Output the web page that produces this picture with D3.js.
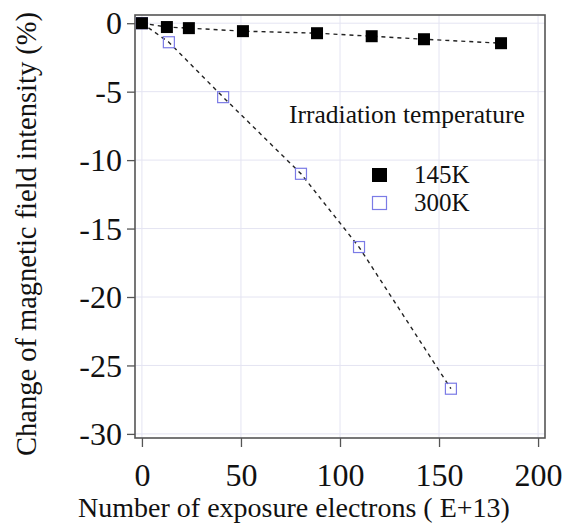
<!DOCTYPE html>
<html>
<head>
<meta charset="utf-8">
<script src="https://cdn.jsdelivr.net/npm/d3@7"></script>
<style>
body { margin: 0; background: #fff; }
text { font-family: "Liberation Serif", "Times New Roman", serif; fill: #111; }
</style>
</head>
<body>
<svg id="svg1" width="564" height="525"></svg>
<script>
// exposure electrons (E+13) and change of field intensity (%)
var x145 = [0, 12.6, 23.7, 51, 88.4, 116, 142.4, 181.3];
var y145 = [0, -0.28, -0.36, -0.58, -0.73, -0.95, -1.17, -1.46];
var x300 = [0, 13.6, 41, 80.3, 109.6, 156];
var y300 = [0, -1.39, -5.4, -11.0, -16.35, -26.7];
var xTicks = [0, 50, 100, 150, 200];
var yTicks = [0, -5, -10, -15, -20, -25, -30];

var svg = d3.select('svg');

var plotLeft = 135, plotRight = 545, plotTop = 15, plotBottom = 438;

var x = d3.scaleLinear().domain([-3.5, 203.5]).range([plotLeft, plotRight]);
var y = d3.scaleLinear().domain([0.6, -30.3]).range([plotTop, plotBottom]);

// grid
svg.append('g').selectAll('line')
    .data(xTicks).enter().append('line')
    .attr('x1', function(d){return x(d)}).attr('x2', function(d){return x(d)})
    .attr('y1', plotTop).attr('y2', plotBottom)
    .attr('stroke', '#e4e4f2').attr('stroke-width', 1);
svg.append('g').selectAll('line')
    .data(yTicks).enter().append('line')
    .attr('y1', function(d){return y(d)}).attr('y2', function(d){return y(d)})
    .attr('x1', plotLeft).attr('x2', plotRight)
    .attr('stroke', '#e4e4f2').attr('stroke-width', 1);

// axes
var fmt = function(d){return String(d)};
var xAxis = svg.append('g')
    .attr('transform', 'translate(0,' + plotBottom + ')')
    .call(d3.axisBottom(x).tickValues(xTicks).tickFormat(fmt).tickSize(9).tickPadding(16));
var yAxis = svg.append('g')
    .attr('transform', 'translate(' + plotLeft + ',0)')
    .call(d3.axisLeft(y).tickValues(yTicks).tickFormat(fmt).tickSize(8).tickPadding(5));
[xAxis, yAxis].forEach(function(a){
    a.attr('font-family', '"Liberation Serif", serif').attr('font-size', 32);
    a.select('.domain').remove();
    a.selectAll('line').attr('stroke', '#555').attr('stroke-width', 1.3);
    a.selectAll('text').attr('fill', '#111');
});
yAxis.selectAll('text').attr('dy', '0.33em');

// frame
svg.append('rect')
    .attr('x', plotLeft).attr('y', plotTop)
    .attr('width', plotRight - plotLeft).attr('height', plotBottom - plotTop)
    .attr('fill', 'none').attr('stroke', '#555').attr('stroke-width', 1.6);

var line = d3.line()
    .x(function(d){return x(d[0])})
    .y(function(d){return y(d[1])});

var d145 = x145.map(function(v, i){return [v, y145[i]]});
var d300 = x300.map(function(v, i){return [v, y300[i]]});

[d145, d300].forEach(function(d){
    svg.append('path').datum(d)
        .attr('d', line)
        .attr('fill', 'none')
        .attr('stroke', '#222')
        .attr('stroke-width', 1.4)
        .attr('stroke-dasharray', '4,4');
});

svg.append('g').selectAll('rect')
    .data(d300).enter().append('rect')
    .attr('x', function(d){return x(d[0]) - 5.5})
    .attr('y', function(d){return y(d[1]) - 5.5})
    .attr('width', 11).attr('height', 11)
    .attr('fill', 'none')
    .attr('stroke', '#7b7be6')
    .attr('stroke-width', 1.2);

svg.append('g').selectAll('rect')
    .data(d145).enter().append('rect')
    .attr('x', function(d){return x(d[0]) - 6})
    .attr('y', function(d){return y(d[1]) - 6})
    .attr('width', 12).attr('height', 12)
    .attr('fill', '#000');

// legend
svg.append('text')
    .attr('x', 289).attr('y', 123)
    .style('font-size', '25.5px')
    .text('Irradiation temperature');
svg.append('rect')
    .attr('x', 372).attr('y', 168).attr('width', 15).attr('height', 14)
    .attr('fill', '#000');
svg.append('rect')
    .attr('x', 372.5).attr('y', 196.5).attr('width', 14).attr('height', 13)
    .attr('fill', 'none').attr('stroke', '#7b7be6').attr('stroke-width', 1.2);
svg.append('text').attr('x', 414).attr('y', 183)
    .style('font-size', '25px').text('145K');
svg.append('text').attr('x', 414).attr('y', 211)
    .style('font-size', '25px').text('300K');

// axis titles
svg.append('text')
    .attr('x', 294).attr('y', 517)
    .attr('text-anchor', 'middle')
    .style('font-size', '28px')
    .text('Number of exposure electrons ( E+13)');
svg.append('text')
    .attr('transform', 'translate(36,' + 234 + ') rotate(-90)')
    .attr('text-anchor', 'middle')
    .style('font-size', '28.5px')
    .text('Change of magnetic field intensity (%)');
</script>
</body>
</html>
